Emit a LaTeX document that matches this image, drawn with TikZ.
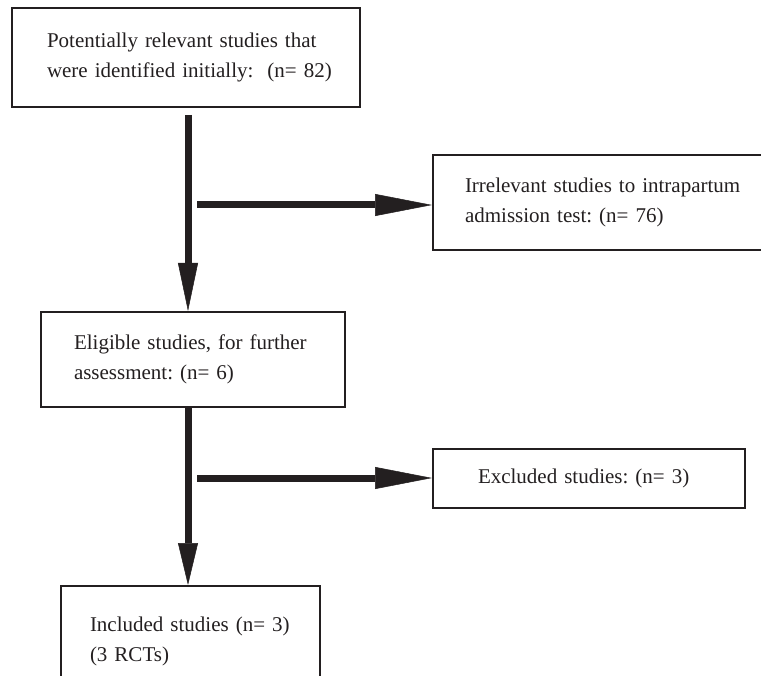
\documentclass[tikz,border=0pt]{standalone}
\usepackage{fontspec}
\setmainfont{Liberation Serif}
\usetikzlibrary{arrows.meta}
\definecolor{ink}{RGB}{35,31,32}
\frenchspacing
\begin{document}
\begin{tikzpicture}[x=1pt,y=-1pt,
  box/.style={draw=ink, line width=2pt, text=ink, rectangle, anchor=north west,
    inner sep=0pt, align=left, font=\fontsize{21}{30}\selectfont},
  flow/.style={draw=ink, line width=7pt},
  vtip/.style={-{Triangle[length=#1,width=20pt,line width=0.5pt]}},
  htip/.style={-{Triangle[length=57pt,width=22pt,line width=0.5pt]}}
]
\useasboundingbox (0,0) rectangle (761,676);
\clip (0,0) rectangle (761,676);

\node[box, minimum width=348pt, minimum height=99pt, text width=278pt] (b1) at (11,7)
  {\mbox{Potentially relevant studies that}\\\mbox{were identified initially:\ \ (n= 82)}};
\node[box, minimum width=358pt, minimum height=95pt, text width=294pt] (b2) at (432,154)
  {\mbox{Irrelevant studies to intrapartum}\\\mbox{admission test: (n= 76)}};
\node[box, minimum width=304pt, minimum height=95pt, text width=238pt] (b3) at (40,311)
  {\mbox{Eligible studies, for further}\\\mbox{assessment: (n= 6)}};
\node[box, minimum width=312pt, minimum height=59pt, text width=222pt] (b4) at (432,448)
  {\mbox{Excluded studies: (n= 3)}};
\node[box, minimum width=259pt, minimum height=110pt, text width=201pt] (b5) at (60,585)
  {\mbox{Included studies (n= 3)}\\\mbox{(3 RCTs)}};

\coordinate (v1s) at (188,115);
\coordinate (h1s) at (197,205);
\coordinate (v2s) at (188,408);
\coordinate (h2s) at (197,478);

\draw[flow, vtip=48pt] (v1s) -- (v1s |- b3.north);
\draw[flow, htip] (h1s) -- (h1s -| b2.west);
\draw[flow, vtip=42pt] (v2s) -- (v2s |- b5.north);
\draw[flow, htip] (h2s) -- (h2s -| b4.west);
\end{tikzpicture}
\end{document}
